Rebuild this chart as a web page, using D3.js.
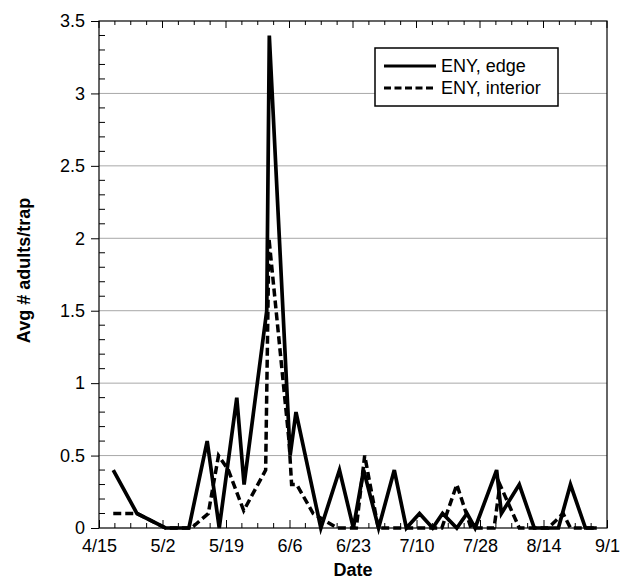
<!DOCTYPE html>
<html>
<head>
<meta charset="utf-8">
<script src="https://cdn.jsdelivr.net/npm/d3@7/dist/d3.min.js"></script>
<style>
  body { margin: 0; background: #fff; }
  text { font-family: "Liberation Sans", Arial, sans-serif; fill: #000; }
</style>
</head>
<body>
<svg id="chart" width="627" height="581"></svg>
<script>
// date axis labels (season runs 4/15 -> 9/1, 139 days)
const dateLabels = ["4/15", "5/2", "5/19", "6/6", "6/23", "7/10", "7/28", "8/14", "9/1"];
const seasonDays = 139;
const yTicks = [0, 0.5, 1, 1.5, 2, 2.5, 3, 3.5];

// ENY, edge : days after 4/15, avg adults per trap
const edgeDay = [3.9, 10.4, 18.2, 24.6, 29.6, 32.9, 37.7, 39.7, 45.9, 46.6, 52.3, 53.9, 60.7, 65.8, 69.6, 72.4, 76.5, 80.8, 84.1, 87.7, 91.3, 94.0, 97.9, 100.7, 102.9, 108.8, 110.1, 115.0, 119.1, 125.7, 129.0, 133.1, 136.2];
const edgeAvg = [0.4, 0.1, 0, 0, 0.6, 0, 0.9, 0.3, 1.5, 3.4, 0.5, 0.8, 0, 0.4, 0, 0.4, 0, 0.4, 0, 0.1, 0, 0.1, 0, 0.1, 0, 0.4, 0.1, 0.3, 0, 0, 0.3, 0, 0];

// ENY, interior
const interiorDay = [3.9, 10.4, 18.2, 25.3, 29.9, 32.7, 35.4, 39.6, 45.6, 46.5, 52.0, 52.7, 54.1, 58.6, 65.2, 70.4, 72.7, 76.4, 93.8, 97.9, 101.8, 108.1, 109.7, 115.0, 122.9, 127.0, 129.0, 136.2];
const interiorAvg = [0.1, 0.1, 0, 0, 0.1, 0.5, 0.4, 0.12, 0.4, 2.0, 0.6, 0.3, 0.3, 0.1, 0, 0, 0.5, 0, 0, 0.3, 0, 0, 0.3, 0, 0, 0.1, 0, 0];

const margin = {top: 21, right: 20, bottom: 53, left: 99};
const width = 627 - margin.left - margin.right;
const height = 581 - margin.top - margin.bottom;

const svg = d3.select("#chart");
const g = svg.append("g").attr("transform", "translate(" + margin.left + "," + margin.top + ")");

const x = d3.scaleLinear().domain([0, seasonDays]).range([0, width]);
const y = d3.scaleLinear().domain([0, 3.5]).range([height, 0]);

const xMajor = d3.range(dateLabels.length).map(i => i * seasonDays / (dateLabels.length - 1));
const xMinor = d3.range(0, 33).map(i => i * seasonDays / 32).filter((d, i) => i % 4 != 0);
const yMinor = d3.range(0, 36).map(i => i / 10).filter((d, i) => i % 5 != 0);

// gridlines
g.selectAll(".grid")
  .data(yTicks.filter(d => d > 0 && d < 3.5))
  .enter().append("line")
  .attr("class", "grid")
  .attr("x1", 0).attr("x2", width)
  .attr("y1", d => y(d)).attr("y2", d => y(d))
  .attr("stroke", "#a8a8a8").attr("stroke-width", 1);

// minor ticks (inside)
g.selectAll(".yminor").data(yMinor).enter().append("line")
  .attr("x1", 0).attr("x2", 6)
  .attr("y1", d => y(d)).attr("y2", d => y(d))
  .attr("stroke", "#000");
g.selectAll(".xminor-b").data(xMinor).enter().append("line")
  .attr("x1", d => x(d)).attr("x2", d => x(d))
  .attr("y1", height).attr("y2", height - 5)
  .attr("stroke", "#000");
g.selectAll(".xminor-t").data(xMinor).enter().append("line")
  .attr("x1", d => x(d)).attr("x2", d => x(d))
  .attr("y1", 0).attr("y2", 4)
  .attr("stroke", "#000");
g.selectAll(".xmajor-t").data(xMajor).enter().append("line")
  .attr("x1", d => x(d)).attr("x2", d => x(d))
  .attr("y1", 0).attr("y2", 7)
  .attr("stroke", "#000");

// axes
const xAxis = g.append("g")
  .attr("transform", "translate(0," + height + ")")
  .call(d3.axisBottom(x).tickValues(xMajor).tickFormat((d, i) => dateLabels[i]).tickSize(-8).tickSizeOuter(0).tickPadding(11));
const yAxis = g.append("g")
  .call(d3.axisLeft(y).tickValues(yTicks).tickFormat(d => String(d)).tickSize(8).tickSizeOuter(0).tickPadding(6));
[xAxis, yAxis].forEach(a => {
  a.selectAll("text").style("font-size", "18px").attr("fill", "#000");
  a.selectAll("line").attr("stroke", "#000");
  a.select(".domain").remove();
});

// frame
g.append("rect")
  .attr("x", 0).attr("y", 0).attr("width", width).attr("height", height)
  .attr("fill", "none").attr("stroke", "#000").attr("stroke-width", 1.2);

// series
const line = d3.line().x(d => x(d[0])).y(d => y(d[1]));
const edgeData = edgeDay.map((d, i) => [d, edgeAvg[i]]);
const interiorData = interiorDay.map((d, i) => [d, interiorAvg[i]]);

g.append("path").datum(interiorData)
  .attr("d", line).attr("fill", "none")
  .attr("stroke", "#000").attr("stroke-width", 3.5)
  .attr("stroke-dasharray", "8,4");
g.append("path").datum(edgeData)
  .attr("d", line).attr("fill", "none")
  .attr("stroke", "#000").attr("stroke-width", 3.7);

// axis titles
svg.append("text")
  .attr("x", margin.left + width / 2).attr("y", 576)
  .attr("text-anchor", "middle")
  .style("font-size", "18px").style("font-weight", "bold")
  .text("Date");
svg.append("text")
  .attr("transform", "translate(30," + (margin.top + height / 2 - 4) + ") rotate(-90)")
  .attr("text-anchor", "middle")
  .style("font-size", "18px").style("font-weight", "bold")
  .text("Avg # adults/trap");

// legend
const legendItems = [
  {name: "ENY, edge", dash: null},
  {name: "ENY, interior", dash: "7,3.5"}
];
const legend = svg.append("g").attr("transform", "translate(375,48)");
legend.append("rect")
  .attr("width", 183).attr("height", 58)
  .attr("fill", "#fff").attr("stroke", "#000").attr("stroke-width", 1.5);
const item = legend.selectAll(".legend")
  .data(legendItems)
  .enter().append("g")
  .attr("class", "legend")
  .attr("transform", (d, i) => "translate(0," + (18 + i * 22) + ")");
item.append("line")
  .attr("x1", 9).attr("x2", 61)
  .attr("stroke", "#000").attr("stroke-width", 3)
  .attr("stroke-dasharray", d => d.dash);
item.append("text")
  .attr("x", 66).attr("dy", ".35em")
  .style("font-size", "18px")
  .text(d => d.name);
</script>
</body>
</html>
